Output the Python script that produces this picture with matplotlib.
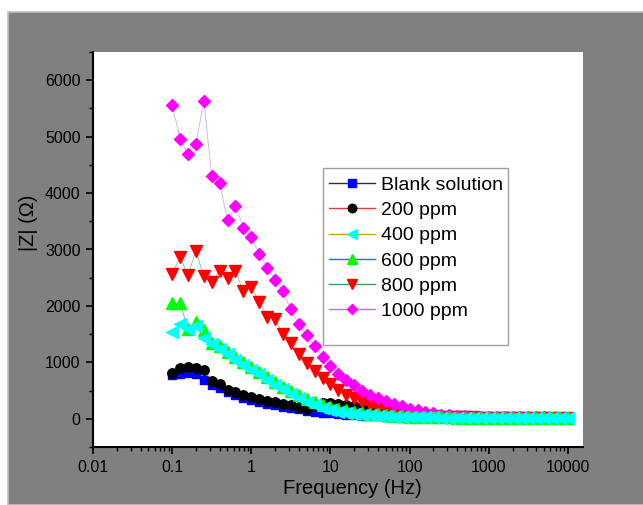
import matplotlib
matplotlib.use('Agg')
import matplotlib.pyplot as plt
from matplotlib.lines import Line2D
from matplotlib.patches import Rectangle
import matplotlib.ticker as ticker

plt.rcParams['font.family'] = ['Liberation Sans', 'DejaVu Sans']

freq = [0.1, 0.1259, 0.1585, 0.1995, 0.2512, 0.3162, 0.3981, 0.5012, 0.631, 0.7943,
        1.0, 1.259, 1.585, 1.995, 2.512, 3.162, 3.981, 5.012, 6.31, 7.943,
        10.0, 12.59, 15.85, 19.95, 25.12, 31.62, 39.81, 50.12, 63.1, 79.43,
        100.0, 125.9, 158.5, 199.5, 251.2, 316.2, 398.1, 501.2, 631.0, 794.3,
        1000.0, 1259, 1585, 1995, 2512, 3162, 3981, 5012, 6310, 7943, 10000]

blank = [770, 785, 820, 800, 690, 600, 550, 470, 425, 375,
         335, 300, 268, 238, 212, 188, 165, 145, 127, 110,
         96, 84, 73, 63, 55, 48, 42, 37, 33, 29,
         26, 24, 22, 20, 18, 17, 16, 15, 14, 13,
         12, 12, 11, 11, 10, 10, 10, 9, 9, 9, 9]
ppm200 = [803, 892, 921, 892, 865, 665, 612, 517, 469, 420,
          382, 350, 321, 291, 263, 240, 205, 180, 225, 280,
          282, 265, 250, 222, 190, 148, 120, 96, 78, 64,
          53, 45, 39, 34, 30, 27, 24, 22, 20, 19,
          18, 17, 16, 15, 14, 14, 13, 13, 12, 12, 12]
ppm400 = [1530, 1680, 1590, 1650, 1440, 1320, 1230, 1140, 1050, 960,
          870, 785, 695, 605, 520, 440, 368, 298, 237, 189,
          150, 128, 102, 84, 71, 60, 52, 45, 40, 35,
          31, 28, 25, 23, 21, 19, 18, 17, 16, 15,
          14, 13, 12, 12, 11, 11, 10, 10, 10, 9, 9]
ppm600 = [2050, 2050, 1590, 1715, 1575, 1340, 1290, 1190, 1100, 1005,
          915, 825, 735, 645, 565, 490, 420, 355, 300, 250,
          210, 175, 148, 125, 105, 90, 76, 64, 55, 47,
          40, 35, 31, 28, 25, 23, 21, 20, 19, 18,
          17, 16, 15, 15, 14, 14, 13, 13, 13, 12, 12]
ppm800 = [2570, 2865, 2550, 2967, 2526, 2432, 2616, 2498, 2616, 2259,
          2330, 2078, 1810, 1766, 1504, 1340, 1142, 983, 850, 724,
          617, 517, 428, 368, 296, 237, 189, 153, 130, 100,
          78, 62, 50, 42, 36, 31, 28, 25, 23, 21,
          20, 19, 18, 17, 16, 16, 15, 15, 14, 14, 14]
ppm1000 = [5560, 4965, 4690, 4865, 5630, 4305, 4175, 3520, 3775, 3385,
           3215, 2926, 2680, 2465, 2262, 1938, 1683, 1483, 1290, 1100,
           933, 796, 696, 594, 500, 428, 368, 309, 261, 219,
           178, 148, 118, 95, 75, 62, 52, 45, 40, 36,
           33, 30, 28, 27, 26, 25, 24, 23, 22, 22, 21]

xticks = [0.01, 0.1, 1, 10, 100, 1000, 10000]
labels = ['Blank solution', '200 ppm', '400 ppm', '600 ppm', '800 ppm', '1000 ppm']
series = [blank, ppm200, ppm400, ppm600, ppm800, ppm1000]
marker_col = ['#0000ff', '#000000', '#00ffff', '#00ff00', '#ff0000', '#ff00ff']
line_col = ['#303030', '#e03c3c', '#d4a017', '#1a6fe0', '#3a9a60', '#b474f0']
markers = ['s', 'o', '<', '^', 'v', 'D']
msizes = [5.8, 6.8, 8, 8, 8, 6.2]
zorders = [3, 4, 7, 6, 5, 5.5]

fig = plt.figure(figsize=(6.43, 5.05), dpi=100, facecolor='white')
fig.patches.append(Rectangle((8 / 643, 0), 1, 493 / 505, transform=fig.transFigure,
                             facecolor='#808080', edgecolor='#c0c0c0', lw=1.2, zorder=-10))

ax = fig.add_axes([93 / 643, 1 - 447 / 505, 490 / 643, 395 / 505])
ax.set_facecolor('white')

handles = []
for y, lab, mc, lc, m, ms, z in zip(series, labels, marker_col, line_col, markers, msizes, zorders):
    ax.plot(freq, y, color=lc, lw=0.6, alpha=0.6, zorder=z)
    ax.plot(freq, y, ls='none', marker=m, ms=ms, mfc=mc, mec=mc, zorder=z)
    handles.append(Line2D([], [], color=lc, lw=1.0, marker=m, ms=ms * 0.9, mfc=mc, mec=mc))

ax.set_xscale('log')
ax.set_xlim(0.01, 15500)
ax.set_ylim(-500, 6500)
ax.xaxis.set_major_locator(ticker.FixedLocator(xticks))
ax.xaxis.set_minor_locator(ticker.LogLocator(base=10, subs=range(2, 10), numticks=20))
ax.xaxis.set_minor_formatter(ticker.NullFormatter())
ax.xaxis.set_major_formatter(ticker.FixedFormatter(['%g' % v for v in xticks]))
ax.yaxis.set_major_locator(ticker.MultipleLocator(1000))
ax.yaxis.set_minor_locator(ticker.MultipleLocator(500))

for s in ['top', 'right']:
    ax.spines[s].set_visible(False)
for s in ['left', 'bottom']:
    ax.spines[s].set_linewidth(1.5)

ax.tick_params(which='major', direction='out', length=5, width=1.2, labelsize=11.5, pad=4)
ax.tick_params(which='minor', direction='out', length=2.8, width=1.0)

ax.set_xlabel('Frequency (Hz)', fontsize=14.5)
ax.set_ylabel('|Z| (Ω)', fontsize=14.5)
ax.xaxis.set_label_coords(0.529, -0.08)
ax.yaxis.set_label_coords(-0.112, 0.567)

# legend without frame, frame drawn separately (it has an empty strip at the bottom)
leg = ax.legend(handles, labels, loc='upper left', bbox_to_anchor=(0.469, 0.700),
                borderaxespad=0, fontsize=14, frameon=False,
                handlelength=2.4, handletextpad=0.3, labelspacing=0.39,
                borderpad=0.3)
leg.set_zorder(20)
ax.add_patch(Rectangle((323 / 643, 1 - 345 / 505), 185 / 643, 177 / 505,
                       transform=fig.transFigure, facecolor='white', edgecolor='#a0a0a0',
                       lw=1.0, zorder=19))

fig.savefig('out.png', dpi=100, facecolor=fig.get_facecolor())
